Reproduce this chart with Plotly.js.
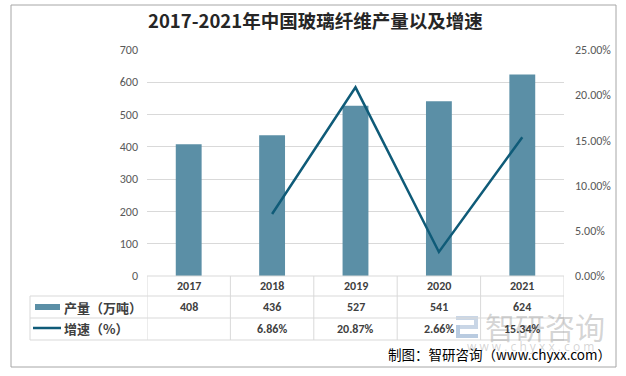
<!DOCTYPE html>
<html>
<head>
<meta charset="utf-8">
<script src="https://cdn.plot.ly/plotly-3.0.1.min.js"></script>
<style>html,body{margin:0;padding:0;background:#fff;}#chart{width:626px;height:376px;}</style>
</head>
<body>
<div id="chart"></div>
<script>
const years = ['2017', '2018', '2019', '2020', '2021'];
const output = [408, 436, 527, 541, 624];
const growth = [null, 0.0686, 0.2087, 0.0266, 0.1534];
const growthLabels = ['', '6.86%', '20.87%', '2.66%', '15.34%'];
const seriesNames = ['产量（万吨）', '增速（%）'];
const titleText = '2017-2021年中国玻璃纤维产量以及增速';
const sourceText = '制图：智研咨询（www.chyxx.com）';

const W = 626, H = 376;
const mL = 147, mR = 62, mT = 50, mB = 100;
const pw = W - mL - mR, ph = H - mT - mB;
const px = x => (x - mL) / pw;
const py = y => (H - mB - y) / ph;

const barColor = '#5b8fa6';
const lineColor = '#0f5b78';
const gridColor = '#d9d9d9';
const cjk = '"Noto Sans CJK SC", "Open Sans", sans-serif';
const numFont = 'Carlito, Calibri, "Open Sans", "Noto Sans", sans-serif';

const shapes = [];
const annotations = [];
const tblColor = '#d9d9d9';
// horizontal table lines
shapes.push({type:'line', xref:'paper', yref:'paper', x0:px(147), x1:px(564), y0:py(276), y1:py(276), line:{color:tblColor, width:1}});
[296, 318, 340].forEach(y => shapes.push({type:'line', xref:'paper', yref:'paper', x0:px(30), x1:px(564), y0:py(y), y1:py(y), line:{color:tblColor, width:1}}));
// vertical lines
shapes.push({type:'line', xref:'paper', yref:'paper', x0:px(30), x1:px(30), y0:py(296), y1:py(340), line:{color:tblColor, width:1}});
for (let i = 0; i <= years.length; i++) {
  shapes.push({type:'line', xref:'x', yref:'paper', x0:i-0.5, x1:i-0.5, y0:py(276), y1:py(340), line:{color:tblColor, width:1}});
}
// legend swatches
shapes.push({type:'rect', xref:'paper', yref:'paper', x0:px(35), x1:px(60), y0:py(310), y1:py(304), fillcolor:barColor, line:{width:0}});
shapes.push({type:'line', xref:'paper', yref:'paper', x0:px(33), x1:px(61), y0:py(328), y1:py(328), line:{color:lineColor, width:2.5}});
// outer border
shapes.push({type:'rect', xref:'paper', yref:'paper', x0:px(11), x1:px(616), y0:py(5), y1:py(367), line:{color:'#a6a6a6', width:1}, layer:'below'});
// watermark logo
shapes.push({type:'rect', xref:'paper', yref:'paper', x0:px(456), x1:px(478), y0:py(316), y1:py(320), fillcolor:'#c9d6e6', line:{width:0}, layer:'below'});
shapes.push({type:'rect', xref:'paper', yref:'paper', x0:px(456), x1:px(478), y0:py(325), y1:py(329), fillcolor:'#c9d6e6', line:{width:0}, layer:'below'});
shapes.push({type:'rect', xref:'paper', yref:'paper', x0:px(456), x1:px(478), y0:py(334), y1:py(338), fillcolor:'#b9cbe0', line:{width:0}, layer:'below'});
shapes.push({type:'rect', xref:'paper', yref:'paper', x0:px(474), x1:px(478), y0:py(316), y1:py(329), fillcolor:'#c9d6e6', line:{width:0}, layer:'below'});
shapes.push({type:'rect', xref:'paper', yref:'paper', x0:px(456), x1:px(460), y0:py(325), y1:py(338), fillcolor:'#b9cbe0', line:{width:0}, layer:'below'});

// watermark text
annotations.push({xref:'paper', yref:'paper', x:px(545), y:py(326), text:'智研咨询', showarrow:false, font:{family:cjk, size:30, color:'rgba(160,160,160,0.45)'}, xanchor:'center', yanchor:'middle'});
annotations.push({xref:'paper', yref:'paper', x:px(530), y:py(346), text:'w w w . c h y x x . c o m', showarrow:false, font:{family:'"Open Sans", sans-serif', size:12, color:'rgba(160,160,160,0.45)'}, xanchor:'center', yanchor:'middle'});

// table text
years.forEach((yr, i) => {
  annotations.push({xref:'x', yref:'paper', x:i, y:py(286), text:'<b>'+yr+'</b>', showarrow:false, font:{family:numFont, size:12, color:'#404040'}, xanchor:'center', yanchor:'middle'});
  annotations.push({xref:'x', yref:'paper', x:i, y:py(307), text:'<b>'+output[i]+'</b>', showarrow:false, font:{family:numFont, size:12, color:'#404040'}, xanchor:'center', yanchor:'middle'});
  annotations.push({xref:'x', yref:'paper', x:i, y:py(329), text:'<b>'+growthLabels[i]+'</b>', showarrow:false, font:{family:numFont, size:12, color:'#404040'}, xanchor:'center', yanchor:'middle'});
});
annotations.push({xref:'paper', yref:'paper', x:px(62), y:py(307), text:'<b>'+seriesNames[0]+'</b>', showarrow:false, font:{family:cjk, size:13, color:'#404040'}, xanchor:'left', yanchor:'middle'});
annotations.push({xref:'paper', yref:'paper', x:px(62), y:py(328), text:'<b>'+seriesNames[1]+'</b>', showarrow:false, font:{family:cjk, size:13, color:'#404040'}, xanchor:'left', yanchor:'middle'});
// source
annotations.push({xref:'paper', yref:'paper', x:px(613), y:py(354), text:sourceText, showarrow:false, font:{family:cjk, size:13.5, color:'#000'}, xanchor:'right', yanchor:'middle'});
// title
annotations.push({xref:'paper', yref:'paper', x:px(315), y:py(20), text:'<b>'+titleText+'</b>', showarrow:false, font:{family:cjk, size:18.5, color:'#262626'}, xanchor:'center', yanchor:'middle'});

const traces = [
  {type:'bar', x:[0,1,2,3,4], y:output, name:seriesNames[0], marker:{color:barColor}, width:0.31, yaxis:'y', hoverinfo:'skip'},
  {type:'scatter', mode:'lines', x:[0,1,2,3,4], y:growth, name:seriesNames[1], line:{color:lineColor, width:2.5}, yaxis:'y2', connectgaps:false, hoverinfo:'skip'}
];

const layout = {
  width: W, height: H,
  margin: {l:mL, r:mR, t:mT, b:mB, pad:0},
  paper_bgcolor:'#fff', plot_bgcolor:'rgba(0,0,0,0)',
  showlegend:false,
  xaxis:{range:[-0.5, 4.5], showticklabels:false, showgrid:false, zeroline:false, showline:false, fixedrange:true},
  yaxis:{range:[0,700], dtick:100, tickfont:{family:numFont, size:12, color:'#595959'}, gridcolor:gridColor, gridwidth:1, zeroline:false, showline:false, ticks:'', ticklabelstandoff:8},
  yaxis2:{range:[0,0.25], dtick:0.05, tickformat:'.2%', overlaying:'y', side:'right', showgrid:false, zeroline:false, showline:false, ticks:'', tickfont:{family:numFont, size:12, color:'#595959'}, ticklabelstandoff:10},
  shapes: shapes,
  annotations: annotations
};

Plotly.newPlot('chart', traces, layout, {displayModeBar:false, staticPlot:true});
</script>
</body>
</html>
